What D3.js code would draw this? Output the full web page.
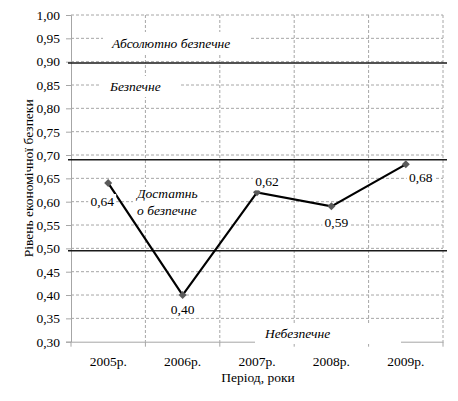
<!DOCTYPE html>
<html>
<head>
<meta charset="utf-8">
<script src="https://cdn.jsdelivr.net/npm/d3@7"></script>
<style>
  html, body { margin: 0; padding: 0; background: #fff; }
  svg { display: block; font-family: "Liberation Serif", "Times New Roman", serif; }
</style>
</head>
<body>
<svg id="chart"></svg>
<script>
// --- data ---
const years = ['2005р.', '2006р.', '2007р.', '2008р.', '2009р.'];
const values = [0.64, 0.40, 0.62, 0.59, 0.68];
const yTicks = [0.30, 0.35, 0.40, 0.45, 0.50, 0.55, 0.60, 0.65, 0.70, 0.75, 0.80, 0.85, 0.90, 0.95, 1.00];
const thresholds = [0.897, 0.69, 0.495];
const zoneNames = [['Абсолютно безпечне'], ['Безпечне'], ['Достатнь', 'о безпечне'], ['Небезпечне']];
const xTitle = 'Період, роки';
const yTitle = 'Рівень економічної безпеки';

// --- layout ---
const W = 458, H = 401;
const plotL = 71, plotR = 443, plotT = 15, plotB = 341.7;
// label offsets relative to each point (dx, dy of baseline centre)
const labelOffsets = [[-6, 23], [0, 19], [10, -6], [5, 21], [15, 18]];
// zone label boxes: x, baseline y of first line, box x0, x1, y0, y1
const zoneBoxes = [
  { x: 112, y: 48, x0: 103, x1: 250, y0: 32, y1: 54 },
  { x: 110, y: 91, x0: 100, x1: 181, y0: 76, y1: 97 },
  { x: 137, y: 198, x0: 133, x1: 200, y0: 187, y1: 220 },
  { x: 265, y: 338, x0: 255, x1: 401, y0: 325, y1: 344 }
];
const fs = 13.5;
const gridColor = '#a6a6a6';
const textColor = '#000';

const svg = d3.select('#chart').attr('width', W).attr('height', H);

const x = d3.scaleBand().domain(years).range([plotL, plotR]);
const y = d3.scaleLinear().domain([0.3, 1.0]).range([plotB, plotT]);
const fmt = d3.formatLocale({ decimal: ',', thousands: ' ', grouping: [3], currency: ['', ''] }).format('.2f');

// horizontal grid
svg.append('g').selectAll('line')
  .data(yTicks.slice(1))
  .join('line')
  .attr('x1', plotL).attr('x2', plotR)
  .attr('y1', d => y(d)).attr('y2', d => y(d))
  .attr('stroke', gridColor).attr('stroke-width', 1)
  .attr('stroke-dasharray', '3,2');

// vertical grid at category boundaries
const bounds = years.map(d => x(d) + x.bandwidth());
svg.append('g').selectAll('line')
  .data(bounds)
  .join('line')
  .attr('x1', d => d).attr('x2', d => d)
  .attr('y1', plotT).attr('y2', plotB)
  .attr('stroke', gridColor).attr('stroke-width', 1)
  .attr('stroke-dasharray', '3,2');

// y axis
const yAxis = d3.axisLeft(y).tickValues(yTicks).tickFormat(fmt).tickSize(5).tickPadding(6);
const gy = svg.append('g').attr('transform', `translate(${plotL},0)`).call(yAxis);
gy.select('.domain').attr('stroke', gridColor);
gy.selectAll('.tick line').attr('stroke', gridColor);
gy.selectAll('.tick text').attr('font-size', fs).attr('font-family', 'Liberation Serif').attr('fill', textColor);

// x axis
const gx = svg.append('g').attr('transform', `translate(0,${plotB})`)
  .call(d3.axisBottom(x).tickSize(0).tickPadding(15));
gx.select('.domain').attr('stroke', gridColor);
gx.selectAll('.tick text').attr('font-size', fs).attr('font-family', 'Liberation Serif').attr('fill', textColor);
svg.append('g').selectAll('line')
  .data([plotL].concat(bounds))
  .join('line')
  .attr('x1', d => d).attr('x2', d => d)
  .attr('y1', plotB).attr('y2', plotB + 5)
  .attr('stroke', gridColor);

// threshold lines
svg.append('g').selectAll('line')
  .data(thresholds)
  .join('line')
  .attr('x1', plotL - 3).attr('x2', plotR + 4)
  .attr('y1', d => y(d)).attr('y2', d => y(d))
  .attr('stroke', '#1a1a1a').attr('stroke-width', 1.6);

// zone labels with white boxes
zoneNames.forEach((lines, i) => {
  const b = zoneBoxes[i];
  svg.append('rect')
    .attr('x', b.x0).attr('y', b.y0)
    .attr('width', b.x1 - b.x0).attr('height', b.y1 - b.y0)
    .attr('fill', '#fff');
  const t = svg.append('text')
    .attr('x', b.x).attr('y', b.y)
    .attr('font-size', fs).attr('font-style', 'italic').attr('fill', textColor);
  lines.forEach((s, j) => {
    t.append('tspan').attr('x', b.x).attr('dy', j === 0 ? 0 : 17).text(s);
  });
});

// data line
const line = d3.line()
  .x((d, i) => x(years[i]) + x.bandwidth() / 2)
  .y(d => y(d));
svg.append('path')
  .datum(values)
  .attr('d', line)
  .attr('fill', 'none')
  .attr('stroke', '#000')
  .attr('stroke-width', 2.2);

// markers
svg.append('g').selectAll('path')
  .data(values)
  .join('path')
  .attr('transform', (d, i) => `translate(${x(years[i]) + x.bandwidth() / 2},${y(d)}) rotate(45)`)
  .attr('d', d3.symbol(d3.symbolSquare, 32))
  .attr('fill', '#5a5a5a');

// value labels with white backgrounds
const lab = svg.append('g').selectAll('g')
  .data(values)
  .join('g')
  .attr('transform', (d, i) => `translate(${x(years[i]) + x.bandwidth() / 2 + labelOffsets[i][0]},${y(d) + labelOffsets[i][1]})`);
lab.append('rect')
  .attr('x', -14).attr('y', -12).attr('width', 28).attr('height', 16)
  .attr('fill', '#fff');
lab.append('text')
  .attr('text-anchor', 'middle')
  .attr('font-size', fs).attr('fill', textColor)
  .text(d => fmt(d));

// axis titles
svg.append('text')
  .attr('x', (plotL + plotR) / 2 + 1).attr('y', 382)
  .attr('text-anchor', 'middle')
  .attr('font-size', fs).attr('fill', textColor)
  .text(xTitle);
svg.append('text')
  .attr('transform', `translate(33,${(plotT + plotB) / 2}) rotate(-90)`)
  .attr('text-anchor', 'middle')
  .attr('font-size', fs).attr('fill', textColor)
  .text(yTitle);
</script>
</body>
</html>
